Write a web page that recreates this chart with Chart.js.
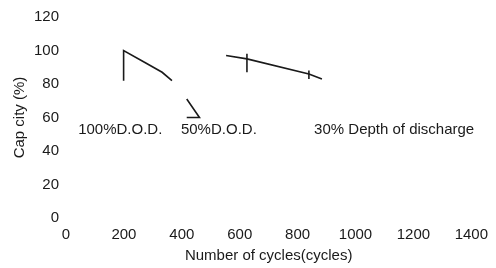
<!DOCTYPE html>
<html>
<head>
<meta charset="utf-8">
<script src="https://cdn.jsdelivr.net/npm/chart.js@4/dist/chart.umd.min.js"></script>
<style>
  html, body { margin: 0; padding: 0; background: #fff; }
  #wrap { width: 496px; height: 268px; }
</style>
</head>
<body>
<div id="wrap"><canvas id="cycleChart"></canvas></div>
<script>
// 100% D.O.D. curve (cycles, capacity %)
const dod100X = [199, 199, 271, 332, 366];
const dod100Y = [82, 100, 93, 87, 82];
// 50% D.O.D. fragment
const dod50X = [417, 461, 417];
const dod50Y = [71, 60, 60];
// 30% depth of discharge curve
const dod30X = [553, 625, 839, 884];
const dod30Y = [97, 95, 86, 83];
// small vertical markers on the 30% curve
const mark1X = [625, 625];
const mark1Y = [98, 87];
const mark2X = [839, 839];
const mark2Y = [88, 83];

const xTicks = [0, 200, 400, 600, 800, 1000, 1200, 1400];
const yTicks = [0, 20, 40, 60, 80, 100, 120];

const noteText = ["100%D.O.D.", "50%D.O.D.", "30% Depth of discharge"];
const noteX = [42, 397, 857];
const noteY = [52.5, 52.5, 52.5];

const FONT = "'Liberation Sans', Arial, sans-serif";
const INK = "#1a1a1a";

function pts(xs, ys) {
  return xs.map((x, i) => ({ x: x, y: ys[i] }));
}

function series(xs, ys) {
  return {
    data: pts(xs, ys),
    borderColor: INK,
    borderWidth: 1.6,
    pointRadius: 0,
    fill: false,
    tension: 0,
  };
}

const notesPlugin = {
  id: "notes",
  afterDatasetsDraw(chart) {
    const ctx = chart.ctx;
    const xs = chart.scales.x;
    const ys = chart.scales.y;
    ctx.save();
    ctx.fillStyle = INK;
    ctx.font = "15px " + FONT;
    ctx.textAlign = "left";
    ctx.textBaseline = "middle";
    noteText.forEach((t, i) => {
      ctx.fillText(t, xs.getPixelForValue(noteX[i]), ys.getPixelForValue(noteY[i]));
    });
    ctx.restore();
  },
};

new Chart(document.getElementById("cycleChart"), {
  type: "line",
  data: {
    datasets: [
      series(dod100X, dod100Y),
      series(dod50X, dod50Y),
      series(dod30X, dod30Y),
      series(mark1X, mark1Y),
      series(mark2X, mark2Y),
    ],
  },
  options: {
    responsive: true,
    maintainAspectRatio: false,
    animation: false,
    layout: { padding: { top: 17, right: 19, left: 0, bottom: 0 } },
    plugins: { legend: { display: false }, tooltip: { enabled: false } },
    scales: {
      x: {
        type: "linear",
        min: 0,
        max: 1400,
        afterBuildTicks(axis) {
          axis.ticks = xTicks.map((v) => ({ value: v }));
        },
        afterFit(axis) {
          axis.height = 50;
        },
        grid: { display: false, drawTicks: false },
        border: { display: false },
        ticks: {
          color: INK,
          padding: 8,
          maxRotation: 0,
          autoSkip: false,
          callback: (v) => String(v),
          font: { family: FONT, size: 15 },
        },
        title: {
          display: true,
          text: "Number of cycles(cycles)",
          color: INK,
          padding: { top: 0, bottom: 3 },
          font: { family: FONT, size: 15 },
        },
      },
      y: {
        min: 0,
        max: 120,
        afterBuildTicks(axis) {
          axis.ticks = yTicks.map((v) => ({ value: v }));
        },
        afterFit(axis) {
          axis.width = 66;
        },
        grid: { display: false, drawTicks: false },
        border: { display: false },
        ticks: {
          color: INK,
          padding: 7,
          font: { family: FONT, size: 15 },
        },
        title: {
          display: true,
          text: "Cap city (%)",
          color: INK,
          padding: { top: 11, bottom: 0 },
          font: { family: FONT, size: 15 },
        },
      },
    },
  },
  plugins: [notesPlugin],
});
</script>
</body>
</html>
